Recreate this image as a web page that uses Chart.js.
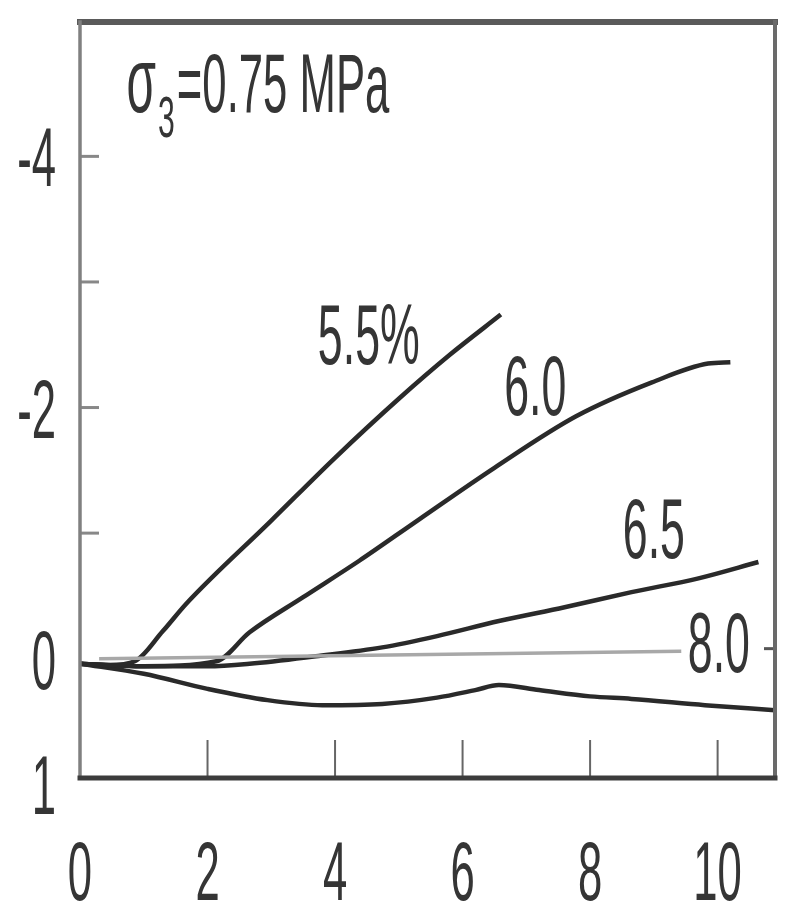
<!DOCTYPE html>
<html>
<head>
<meta charset="utf-8">
<script src="https://cdn.jsdelivr.net/npm/chart.js@4/dist/chart.umd.min.js"></script>
<style>
  html, body { margin: 0; padding: 0; background: #fff; }
  #wrap { width: 794px; height: 908px; }
</style>
</head>
<body>
<div id="wrap"><canvas id="myChart"></canvas></div>
<script>
// axis ticks
const xTickMarks = [2, 4, 6, 8, 10];
const xTickLabels = [0, 2, 4, 6, 8, 10];
const yTickMarks = [-4, -3, -2, -1];
const yTickLabels = [-4, -2, 0, 1];
const rightTickMarks = [-0.08];

// curves (strain on x, volumetric strain on y, reversed axis)
const curve55X = [0, 0.45, 0.86, 1.3, 1.67, 3.0, 4.0, 5.0, 5.8, 6.6];
const curve55Y = [0.04, 0.05, 0.02, -0.22, -0.44, -1.1, -1.6, -2.07, -2.42, -2.74];

const curve60X = [0, 1.0, 2.14, 2.66, 3.5, 4.38, 5.32, 6.5, 7.78, 8.97, 9.85, 10.2];
const curve60Y = [0.04, 0.06, 0.02, -0.21, -0.49, -0.78, -1.11, -1.52, -1.93, -2.2, -2.35, -2.36];

const curve65X = [0, 1.0, 2.0, 2.66, 3.7, 4.74, 5.6, 6.57, 7.6, 8.65, 9.7, 10.64];
const curve65Y = [0.04, 0.06, 0.06, 0.04, -0.02, -0.09, -0.18, -0.3, -0.41, -0.53, -0.64, -0.77];

const curve80X = [0, 1.0, 2.0, 2.94, 3.8, 4.74, 5.6, 6.2, 6.57, 7.2, 8.0, 8.65, 9.8, 10.9];
const curve80Y = [0.04, 0.12, 0.24, 0.33, 0.37, 0.36, 0.31, 0.25, 0.21, 0.25, 0.3, 0.32, 0.37, 0.41];

const refLineX = [0.3, 9.43];
const refLineY = [0.0, -0.06];

// curve labels
const curveNames = ['5.5%', '6.0', '6.5', '8.0'];
const curveNameX = [4.53, 7.14, 9.0, 10.02];
const curveNameY = [-2.59, -2.18, -1.04, -0.13];

const toPoints = (xs, ys) => xs.map((x, i) => ({x: x, y: ys[i]}));

const SQUEEZE = 0.52;
const FONT = '"Liberation Sans", Arial, sans-serif';
const INK = '#353535';

function squeezedText(ctx, str, x, y, size, align) {
  ctx.save();
  ctx.font = size + 'px ' + FONT;
  ctx.fillStyle = INK;
  ctx.textBaseline = 'alphabetic';
  ctx.textAlign = align;
  ctx.translate(x, y);
  ctx.scale(SQUEEZE, 1);
  ctx.fillText(str, 0, 0);
  const w = ctx.measureText(str).width * SQUEEZE;
  ctx.restore();
  return w;
}

const framePlugin = {
  id: 'frame',
  afterDraw(chart) {
    const ctx = chart.ctx;
    const a = chart.chartArea;
    const xs = chart.scales.x, ys = chart.scales.y;

    // ticks (inward)
    ctx.save();
    ctx.strokeStyle = '#666';
    ctx.lineWidth = 2;
    xTickMarks.forEach(v => {
      const px = xs.getPixelForValue(v);
      ctx.beginPath(); ctx.moveTo(px, a.bottom); ctx.lineTo(px, a.bottom - 38); ctx.stroke();
    });
    ctx.strokeStyle = '#888';
    ctx.lineWidth = 3;
    yTickMarks.forEach(v => {
      const py = ys.getPixelForValue(v);
      ctx.beginPath(); ctx.moveTo(a.left, py); ctx.lineTo(a.left + 19, py); ctx.stroke();
    });
    ctx.strokeStyle = '#555';
    rightTickMarks.forEach(v => {
      const py = ys.getPixelForValue(v);
      ctx.beginPath(); ctx.moveTo(a.right, py); ctx.lineTo(a.right - 11, py); ctx.stroke();
    });

    // frame
    ctx.lineCap = 'square';
    ctx.strokeStyle = '#5a5a5a'; ctx.lineWidth = 6;
    ctx.beginPath(); ctx.moveTo(a.left, a.top); ctx.lineTo(a.right, a.top); ctx.stroke();
    ctx.strokeStyle = '#808080'; ctx.lineWidth = 3.5;
    ctx.beginPath(); ctx.moveTo(a.left, a.top); ctx.lineTo(a.left, a.bottom); ctx.stroke();
    ctx.strokeStyle = '#6a6a6a'; ctx.lineWidth = 4;
    ctx.beginPath(); ctx.moveTo(a.right, a.top); ctx.lineTo(a.right, a.bottom); ctx.stroke();
    ctx.strokeStyle = '#3c3c3c'; ctx.lineWidth = 5;
    ctx.beginPath(); ctx.moveTo(a.left, a.bottom); ctx.lineTo(a.right, a.bottom); ctx.stroke();
    ctx.restore();

    // tick labels
    const size = 84, capHalf = size * 0.358;
    yTickLabels.forEach(v => {
      squeezedText(ctx, String(v), a.left - 24, ys.getPixelForValue(v) + capHalf, size, 'right');
    });
    xTickLabels.forEach(v => {
      squeezedText(ctx, String(v), xs.getPixelForValue(v), 870 + capHalf, size, 'center');
    });

    // curve labels
    curveNames.forEach((t, i) => {
      squeezedText(ctx, t, xs.getPixelForValue(curveNameX[i]), ys.getPixelForValue(curveNameY[i]) + capHalf, 86, 'center');
    });

    // title: sigma_3 = 0.75 MPa
    let tx = xs.getPixelForValue(0.73);
    const base = ys.getPixelForValue(-4.35);
    tx += squeezedText(ctx, '\u03C3', tx, base, 92, 'left');
    tx += squeezedText(ctx, '3', tx + 2, base + 25, 58, 'left') + 4;
    squeezedText(ctx, '=0.75 MPa', tx, base, 84, 'left');
  }
};

const lineStyle = {
  showLine: true,
  pointRadius: 0,
  borderColor: '#2a2a2a',
  borderWidth: 4.5,
  cubicInterpolationMode: 'monotone',
  fill: false
};

const ctx = document.getElementById('myChart').getContext('2d');

const myChart = new Chart(ctx, {
  type: 'scatter',
  data: {
    datasets: [
      Object.assign({label: '8.0 ref', data: toPoints(refLineX, refLineY)}, lineStyle, {borderColor: '#a8a8a8', borderWidth: 3.5}),
      Object.assign({label: '5.5%', data: toPoints(curve55X, curve55Y)}, lineStyle),
      Object.assign({label: '6.0', data: toPoints(curve60X, curve60Y)}, lineStyle),
      Object.assign({label: '6.5', data: toPoints(curve65X, curve65Y)}, lineStyle),
      Object.assign({label: '8.0', data: toPoints(curve80X, curve80Y)}, lineStyle)
    ]
  },
  options: {
    responsive: true,
    maintainAspectRatio: false,
    animation: false,
    layout: {padding: {left: 80, right: 19, top: 22, bottom: 130}},
    plugins: {legend: {display: false}, tooltip: {enabled: false}},
    scales: {
      x: {type: 'linear', min: 0, max: 10.9, display: false},
      y: {type: 'linear', min: -5.07, max: 0.95, reverse: true, display: false}
    }
  },
  plugins: [framePlugin]
});
</script>
</body>
</html>
